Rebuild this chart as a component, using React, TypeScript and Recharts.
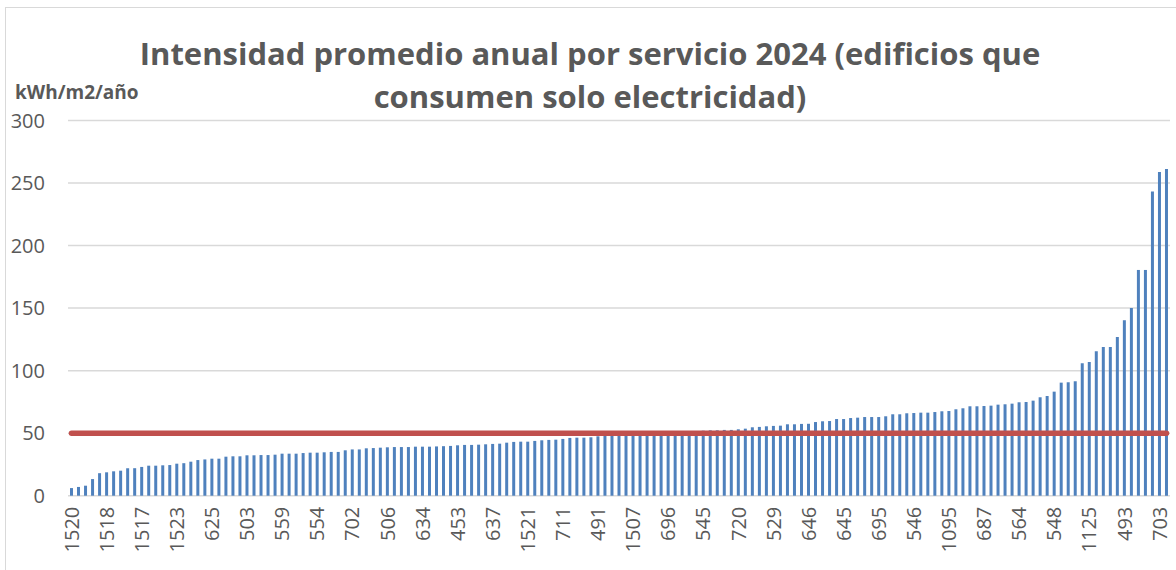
import { ComposedChart, Bar, Line, XAxis, YAxis, CartesianGrid } from "recharts"

// ─── Data ──────────────────────────────────────────────────────────────────────

// kWh/m2/año per building, sorted ascending (157 buildings)
const VALUES_A = [
    6.1, 7.0, 8.0, 13.3, 18.0, 18.7, 19.5, 20.0, 22.0, 22.0, 23.0, 24.0, 24.0, 24.3, 24.5,
    25.6, 26.0, 27.2, 28.5, 29.0, 29.6, 29.6, 31.2, 31.5, 31.5, 32.3, 32.3,
]
const VALUES_B = [
    32.5, 32.5, 32.8, 33.6, 33.6, 33.6, 34.1, 34.4, 34.4, 34.7, 35.0, 35.0, 36.3, 37.0, 37.0,
    37.9, 38.1, 38.4, 38.7, 38.9, 38.9, 38.9, 39.2, 39.2, 39.2, 39.4,
]
const VALUES_C = [
    39.6, 39.8, 40.3, 40.6, 40.6, 40.8, 41.1, 41.4, 41.6, 42.4, 43.0, 43.2, 43.2, 43.8, 44.3,
    44.6, 44.8, 45.4, 46.2, 46.4, 46.4, 46.7, 47.5, 47.8, 47.8, 48.0,
]
const VALUES_D = [
    48.2, 48.5, 48.6, 49.0, 49.3, 49.5, 49.9, 50.3, 50.6, 51.0, 51.5,
    52.0, 52.3, 52.3, 52.6, 52.6, 53.1, 53.6, 54.7, 55.0, 55.5, 55.8, 56.0, 57.1, 57.1, 57.4,
]
const VALUES_E = [
    57.5, 58.9, 59.5, 59.7, 61.3, 61.3, 62.1, 62.4, 62.9, 62.9, 62.9, 63.5, 65.1, 65.1, 65.9,
    66.1, 66.4, 66.4, 66.9, 67.5, 67.7, 69.1, 69.9, 71.5, 71.5, 71.7,
]
const VALUES_F = [
    72.0, 72.8, 73.1, 73.6, 74.7, 74.9, 76.0, 78.7, 79.7, 83.2, 90.4, 90.7, 91.5, 105.9, 106.9,
    115.5, 118.9, 118.9, 126.9, 140.3, 150.1, 180.5, 180.5, 243.2, 258.9, 261.3,
]
const VALUES = [...VALUES_A, ...VALUES_B, ...VALUES_C, ...VALUES_D, ...VALUES_E, ...VALUES_F]

// building codes shown on the axis (every 5th bar)
const TICK_LABELS = [
    "1520", "1518", "1517", "1523", "625", "503", "559", "554", "702", "506", "634",
    "453", "637", "1521", "711", "491", "1507", "696", "545", "720", "529", "646",
    "645", "695", "546", "1095", "687", "564", "548", "1125", "493", "703",
]

const REFERENCE = 50
const Y_TICKS = [0, 50, 100, 150, 200, 250, 300]

const DATA = VALUES.map((v, i) => ({ idx: i, kwh: v, target: REFERENCE }))

// ─── Styles ────────────────────────────────────────────────────────────────────

const TEXT = "#595959"
const FONT = "'Open Sans', sans-serif"

function XTick({ x, y, payload }: any) {
    const label = TICK_LABELS[Math.round(payload.value / 5)] ?? ""
    return (
        <g transform={`translate(${x},${y + 9})`}>
            <text
                transform="rotate(-90)"
                textAnchor="end"
                dy="0.36em"
                fill={TEXT}
                fontSize={20}
                fontFamily={FONT}
            >
                {label}
            </text>
        </g>
    )
}

// ─── Component ─────────────────────────────────────────────────────────────────

export default function App() {
    return (
        <div style={{ position: "relative", width: 1176, height: 570, background: "#fff", fontFamily: FONT }}>
            <style>{"body{margin:0;overflow:hidden}"}</style>
            <div
                style={{
                    position: "absolute",
                    left: 5,
                    top: 7,
                    width: 1171,
                    height: 563,
                    borderLeft: "1px solid #d9d9d9",
                    borderTop: "1px solid #d9d9d9",
                }}
            />
            <div
                style={{
                    position: "absolute",
                    left: 0,
                    width: 1180,
                    top: 32,
                    textAlign: "center",
                    color: TEXT,
                    fontWeight: 700,
                    fontSize: 31,
                    lineHeight: "43px",
                }}
            >
                Intensidad promedio anual por servicio 2024 (edificios que
                <br />
                consumen solo electricidad)
            </div>
            <div
                style={{
                    position: "absolute",
                    left: 15,
                    top: 79,
                    color: TEXT,
                    fontWeight: 700,
                    fontSize: 19,
                }}
            >
                kWh/m2/año
            </div>
            <div style={{ position: "absolute", left: 0, top: 0 }}>
                <ComposedChart
                    width={1176}
                    height={570}
                    data={DATA}
                    margin={{ top: 120.5, right: 6, bottom: 44.3, left: 8 }}
                >
                    <CartesianGrid
                        vertical={false}
                        stroke="#d9d9d9"
                        strokeWidth={1.5}
                    />
                    <XAxis
                        dataKey="idx"
                        type="category"
                        interval={4}
                        height={30}
                        axisLine={false}
                        tickLine={false}
                        tickSize={0}
                        tick={<XTick />}
                    />
                    <YAxis
                        domain={[0, 300]}
                        ticks={Y_TICKS}
                        width={60}
                        axisLine={false}
                        tickLine={false}
                        tickSize={0}
                        tickMargin={23}
                        tick={{ fill: TEXT, fontSize: 20, fontFamily: FONT }}
                    />
                    <Bar dataKey="kwh" fill="#4F81BD" barSize={3} isAnimationActive={false} />
                    <Line
                        dataKey="target"
                        stroke="#C0504D"
                        strokeWidth={5.5}
                        strokeLinecap="round"
                        dot={false}
                        activeDot={false}
                        isAnimationActive={false}
                    />
                </ComposedChart>
            </div>
        </div>
    )
}
